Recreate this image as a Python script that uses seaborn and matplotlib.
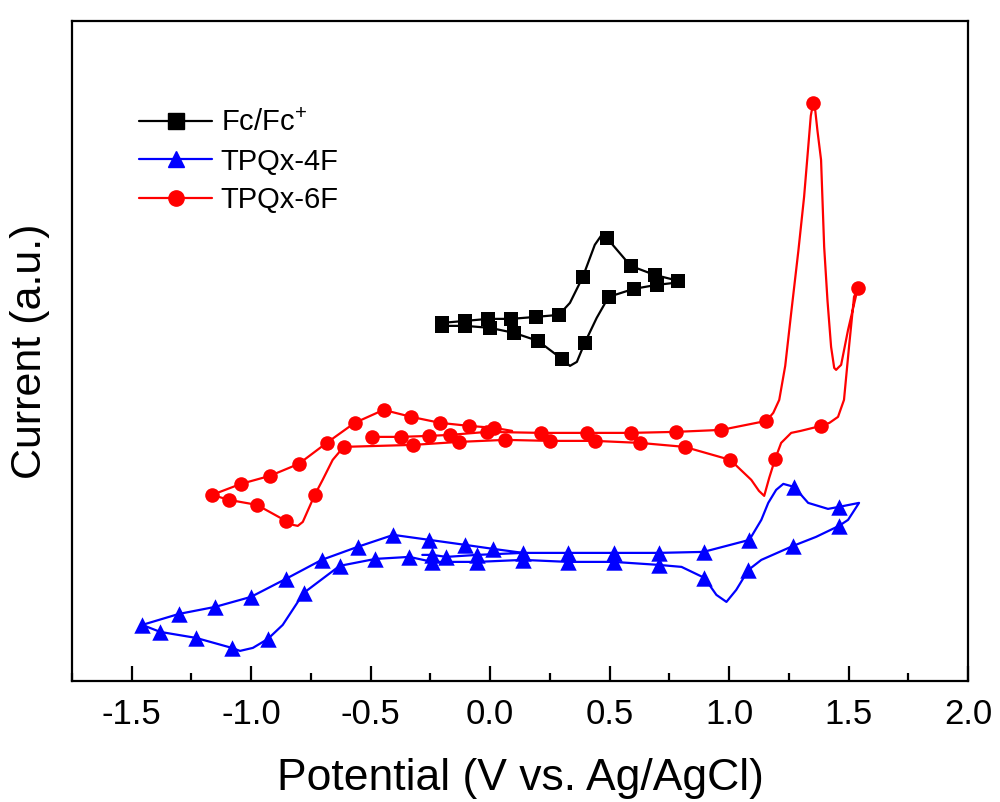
import numpy as np
import pandas as pd
import matplotlib
matplotlib.use("Agg")
import matplotlib.pyplot as plt
from matplotlib.lines import Line2D
import seaborn as sns

# Fc/Fc+ trace (V vs Ag/AgCl, current in a.u.), mark = 1 where a symbol is drawn
fc_v = [-0.200, -0.104, -0.008, 0.088, 0.192, 0.288, 0.334, 0.388, 0.438, 0.467, 0.488,
        0.588, 0.688, 0.788, 0.809,
        0.697, 0.601, 0.496, 0.446, 0.396, 0.363, 0.334, 0.300, 0.200, 0.100, 0.000,
        -0.104, -0.200]
fc_i = [3.58, 3.60, 3.62, 3.62, 3.64, 3.66, 3.78, 4.04, 4.36, 4.46, 4.43,
        4.15, 4.06, 4.00, 3.99,
        3.96, 3.92, 3.84, 3.63, 3.38, 3.19, 3.15, 3.22, 3.40, 3.48, 3.53,
        3.55, 3.55]
fc_mark = [1, 1, 1, 1, 1, 1, 0, 1, 0, 0, 1,
           1, 1, 1, 0,
           1, 1, 1, 0, 1, 0, 0, 1, 1, 1, 1,
           1, 1]

# TPQx-4F trace
f4_v = [-0.284, -0.242, -0.184, -0.054, 0.138, 0.325, 0.517, 0.705, 0.893, 1.085,
        1.135, 1.164, 1.197, 1.227, 1.272, 1.331, 1.414, 1.460, 1.544,
        1.498, 1.460, 1.364, 1.268, 1.135, 1.081, 1.030, 0.989, 0.947, 0.897,
        0.801, 0.705, 0.517, 0.325, 0.138, -0.054, -0.242, -0.338, -0.480,
        -0.630, -0.780, -0.868, -0.930, -0.993, -1.047, -1.081, -1.231, -1.381,
        -1.456,
        -1.302, -1.151, -1.001, -0.855, -0.705, -0.555, -0.405, -0.254, -0.104,
        0.013, 0.138]
f4_i = [1.26, 1.26, 1.24, 1.26, 1.28, 1.28, 1.28, 1.28, 1.29, 1.41,
        1.61, 1.78, 1.91, 1.97, 1.94, 1.78, 1.72, 1.74, 1.78,
        1.61, 1.55, 1.44, 1.35, 1.21, 1.11, 0.91, 0.79, 0.86, 1.03,
        1.14, 1.16, 1.19, 1.19, 1.21, 1.19, 1.19, 1.24, 1.22,
        1.15, 0.88, 0.56, 0.42, 0.33, 0.30, 0.33, 0.43, 0.49,
        0.56,
        0.67, 0.74, 0.84, 1.02, 1.21, 1.34, 1.46, 1.41, 1.36,
        1.32, 1.28]
f4_mark = [0, 1, 1, 1, 1, 1, 1, 1, 1, 1,
           0, 0, 0, 0, 1, 0, 0, 1, 0,
           0, 1, 0, 1, 0, 1, 0, 0, 0, 1,
           0, 1, 1, 1, 1, 1, 1, 1, 1,
           1, 1, 0, 1, 0, 0, 1, 1, 1,
           1,
           1, 1, 1, 1, 1, 1, 1, 1, 1,
           1, 0]

# TPQx-6F trace
f6_v = [-0.513, -0.496, -0.375, -0.254, -0.167, -0.013, 0.213, 0.405, 0.588, 0.776,
        0.968, 1.156, 1.185, 1.210, 1.235, 1.260, 1.290, 1.314, 1.330, 1.342,
        1.352, 1.360, 1.370, 1.385, 1.398, 1.412,
        1.427, 1.440, 1.448, 1.456, 1.469, 1.498, 1.539,
        1.523, 1.502, 1.481, 1.456, 1.420, 1.385, 1.300, 1.260, 1.218, 1.193,
        1.168, 1.147, 1.125,
        1.093, 1.005, 0.814, 0.626, 0.438, 0.250, 0.063, -0.129, -0.321, -0.613,
        -0.659, -0.701, -0.734, -0.784, -0.805, -0.825, -0.855, -0.976, -1.093,
        -1.164,
        -1.043, -0.922, -0.801, -0.684, -0.567, -0.446, -0.330, -0.209, -0.088,
        0.017, 0.092]
f6_i = [2.44, 2.44, 2.44, 2.45, 2.46, 2.49, 2.48, 2.48, 2.48, 2.49,
        2.51, 2.60, 2.68, 2.81, 3.15, 3.68, 4.30, 4.84, 5.30, 5.65,
        5.78, 5.72, 5.50, 5.21, 4.34, 3.80,
        3.34, 3.13, 3.11, 3.13, 3.16, 3.51, 3.93,
        3.84, 3.34, 2.81, 2.64, 2.58, 2.55, 2.50, 2.48, 2.38, 2.22,
        2.03, 1.85, 1.90,
        2.01, 2.21, 2.34, 2.38, 2.40, 2.40, 2.41, 2.39, 2.36, 2.34,
        2.21, 2.01, 1.86, 1.59, 1.55, 1.56, 1.60, 1.76, 1.81,
        1.86,
        1.97, 2.05, 2.17, 2.38, 2.58, 2.71, 2.64, 2.58, 2.55,
        2.53, 2.50]
f6_mark = [0, 1, 1, 1, 1, 1, 1, 1, 1, 1,
           1, 1, 0, 0, 0, 0, 0, 0, 0, 0,
           1, 0, 0, 0, 0, 0,
           0, 0, 0, 0, 0, 0, 1,
           0, 0, 0, 0, 0, 1, 0, 0, 0, 1,
           0, 0, 0,
           0, 1, 1, 1, 1, 1, 1, 1, 1, 1,
           0, 0, 1, 0, 0, 0, 1, 1, 1,
           1,
           1, 1, 1, 1, 1, 1, 1, 1, 1,
           1, 0]

labels = ["Fc/Fc$^{+}$", "TPQx-4F", "TPQx-6F"]
colors = ["black", "blue", "red"]
markers = ["s", "^", "o"]

sns.set_theme(style="ticks")
plt.rcParams["font.family"] = ["Liberation Sans", "DejaVu Sans"]
plt.rcParams["mathtext.default"] = "regular"
plt.rcParams["text.color"] = "black"
plt.rcParams["axes.labelcolor"] = "black"
plt.rcParams["xtick.color"] = "black"
plt.rcParams["ytick.color"] = "black"

fig = plt.figure(figsize=(10, 8.02), dpi=100)
ax = fig.add_axes([0.072, 0.151, 0.896, 0.823])

series = [(fc_v, fc_i, fc_mark), (f4_v, f4_i, f4_mark), (f6_v, f6_i, f6_mark)]
sizes = [110, 140, 110]
for (v, i, m), col, mk, s in zip(series, colors, markers, sizes):
    d = pd.DataFrame({"V": v, "I": i, "mark": m})
    sns.lineplot(data=d, x="V", y="I", sort=False, estimator=None,
                 color=col, linewidth=1.6, ax=ax)
    sns.scatterplot(data=d[d["mark"] == 1], x="V", y="I", marker=mk, s=s,
                    color=col, edgecolor=col, linewidth=0, ax=ax, zorder=3)

ax.set_xlim(-1.75, 2.0)
ax.set_ylim(0, 6.6)
major = np.arange(-1.5, 2.01, 0.5)
ax.set_xticks(major)
ax.set_xticks(np.arange(-1.75, 2.01, 0.25), minor=True)
ax.set_xticklabels([f"{t:.1f}" for t in major])
ax.set_yticks([])
ax.tick_params(axis="x", which="major", direction="in", length=11, width=1.6,
               labelsize=25, pad=12, top=False)
ax.tick_params(axis="x", which="minor", direction="in", length=6, width=1.6, top=False)
for sp in ax.spines.values():
    sp.set_linewidth(1.6)
    sp.set_color("black")

ax.set_xlabel("Potential (V vs. Ag/AgCl)", fontsize=32, labelpad=20)
ax.set_ylabel("Current (a.u.)", fontsize=31, labelpad=16)

handles = [Line2D([], [], color=c, marker=mk, markersize=11, linewidth=1.6)
           for c, mk in zip(colors, markers)]
ax.legend(handles, labels, loc="upper left", bbox_to_anchor=(0.075, 0.866),
          frameon=False, fontsize=21, handlelength=2.5, handletextpad=0.3,
          labelspacing=0.35, borderaxespad=0, borderpad=0)

fig.savefig("out.png", dpi=100)
